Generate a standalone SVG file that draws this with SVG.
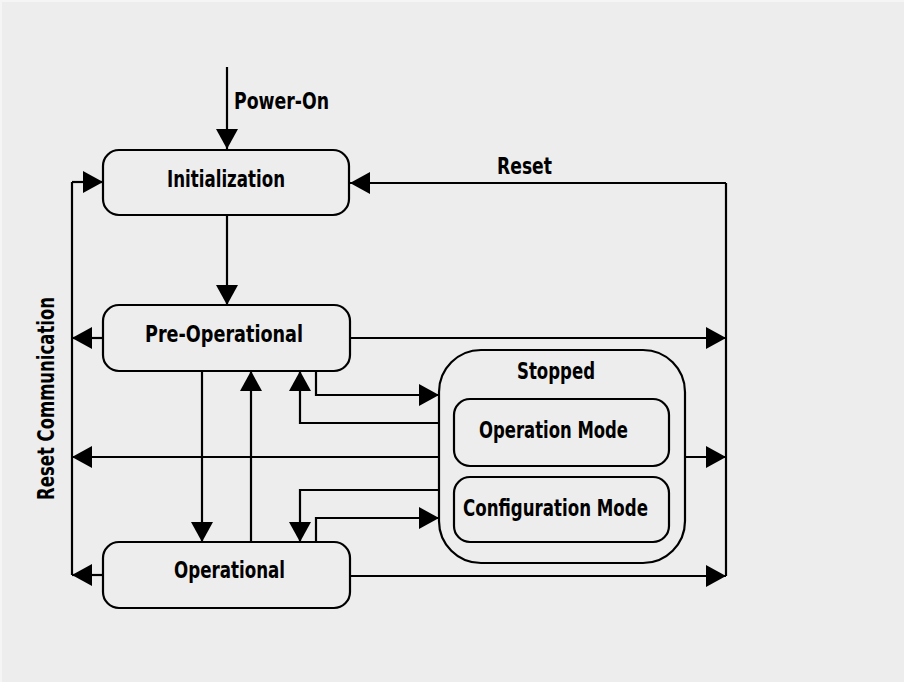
<svg xmlns="http://www.w3.org/2000/svg" width="904" height="682" viewBox="0 0 904 682">
<style>
.box{fill:none;stroke:#000;stroke-width:2.2}
.c{fill:none;stroke:#000;stroke-width:2.2}
.t{font-family:"DejaVu Sans Condensed","DejaVu Sans",sans-serif;font-weight:bold;font-size:23px;fill:#000}
</style>
<defs>
<marker id="ah" markerUnits="userSpaceOnUse" markerWidth="20" markerHeight="22" refX="20" refY="11" orient="auto">
<path d="M0,0 L20,11 L0,22 z" fill="#000"/>
</marker>
</defs>
<rect x="0" y="0" width="904" height="682" fill="#f5f5f5"/>
<rect x="2" y="2" width="902" height="680" fill="#ededed"/>
<g id="connectors">
<path class="c" d="M227,67 V149" marker-end="url(#ah)"/>
<path class="c" d="M227,215 V305" marker-end="url(#ah)"/>
<path class="c" d="M726,183 V576"/>
<path class="c" d="M726,183 H350" marker-end="url(#ah)"/>
<path class="c" d="M350,338 H726" marker-end="url(#ah)"/>
<path class="c" d="M685,457 H726" marker-end="url(#ah)"/>
<path class="c" d="M350,576 H726" marker-end="url(#ah)"/>
<path class="c" d="M72,182 V575"/>
<path class="c" d="M72,182 H103" marker-end="url(#ah)"/>
<path class="c" d="M103,338 H72" marker-end="url(#ah)"/>
<path class="c" d="M439,457 H72" marker-end="url(#ah)"/>
<path class="c" d="M103,575 H72" marker-end="url(#ah)"/>
<path class="c" d="M202,371 V542" marker-end="url(#ah)"/>
<path class="c" d="M251,542 V371" marker-end="url(#ah)"/>
<path class="c" d="M316,371 V395 H439" marker-end="url(#ah)"/>
<path class="c" d="M439,423 H300 V371" marker-end="url(#ah)"/>
<path class="c" d="M439,490 H300 V542" marker-end="url(#ah)"/>
<path class="c" d="M316,542 V518 H439" marker-end="url(#ah)"/>
<text class="t" x="234" y="109" textLength="95" lengthAdjust="spacingAndGlyphs">Power-On</text>
<text class="t" x="497" y="174" textLength="55" lengthAdjust="spacingAndGlyphs">Reset</text>
<text class="t" transform="translate(54,500) rotate(-90)" x="0" y="0" textLength="203" lengthAdjust="spacingAndGlyphs">Reset Communication</text>
</g>
<g id="initialization">
<rect class="box" x="103" y="150" width="246" height="65" rx="16"/>
<text class="t" x="167" y="187" textLength="118" lengthAdjust="spacingAndGlyphs">Initialization</text>
</g>
<g id="pre-operational">
<rect class="box" x="103" y="305" width="247" height="66" rx="16"/>
<text class="t" x="145" y="342" textLength="158" lengthAdjust="spacingAndGlyphs">Pre-Operational</text>
</g>
<g id="operational">
<rect class="box" x="103" y="542" width="247" height="66" rx="16"/>
<text class="t" x="174" y="578" textLength="111" lengthAdjust="spacingAndGlyphs">Operational</text>
</g>
<g id="stopped">
<rect class="box" x="439" y="350" width="246" height="213" rx="42"/>
<text class="t" x="517" y="379" textLength="78" lengthAdjust="spacingAndGlyphs">Stopped</text>
</g>
<g id="operation-mode">
<rect class="box" x="454" y="399" width="215" height="67" rx="16"/>
<text class="t" x="479" y="438" textLength="149" lengthAdjust="spacingAndGlyphs">Operation Mode</text>
</g>
<g id="configuration-mode">
<rect class="box" x="454" y="477" width="215" height="65" rx="16"/>
<text class="t" x="463" y="516" textLength="185" lengthAdjust="spacingAndGlyphs">Configuration Mode</text>
</g>
</svg>
